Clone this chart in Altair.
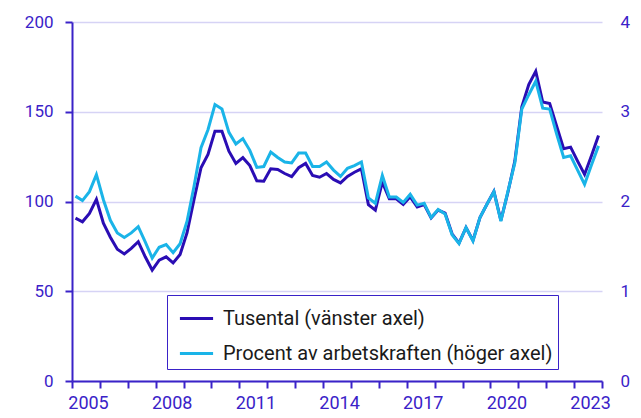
import altair as alt
import pandas as pd

# Quarterly data 2005 K1 - 2023 K4
years = list(range(2005, 2024))
tusental = [
    90.7, 88.7, 93.4, 101.2, 87.9, 80.1, 73.4, 70.8,
    73.9, 77.6, 69.2, 61.8, 67.3, 69.2, 65.8, 70.5,
    82.6, 101.1, 118.8, 126.2, 139.2, 139.2, 128.0, 121.2,
    124.4, 120.0, 111.5, 111.3, 118.2, 117.8, 115.6, 113.8,
    118.8, 121.2, 114.5, 113.5, 115.6, 112.3, 110.4, 114.0,
    116.3, 118.2, 98.3, 95.2, 110.8, 101.5, 101.5, 98.3,
    102.6, 97.0, 98.3, 90.9, 95.2, 93.5, 82.0, 76.8,
    85.5, 78.3, 91.0, 98.5, 105.6, 89.5, 105.0, 122.5,
    152.8, 165.2, 172.6, 155.4, 154.6, 142.0, 129.4, 130.3,
    122.5, 115.1, 125.6, 136.8,
]
procent = [
    2.06, 2.01, 2.11, 2.30, 2.02, 1.79, 1.65, 1.60,
    1.65, 1.72, 1.55, 1.37, 1.49, 1.52, 1.43, 1.53,
    1.78, 2.17, 2.60, 2.80, 3.08, 3.03, 2.77, 2.64,
    2.70, 2.57, 2.38, 2.39, 2.55, 2.49, 2.44, 2.43,
    2.54, 2.54, 2.39, 2.39, 2.44, 2.35, 2.28, 2.37,
    2.40, 2.44, 2.04, 1.98, 2.29, 2.05, 2.05, 1.99,
    2.08, 1.96, 1.98, 1.82, 1.91, 1.86, 1.63, 1.53,
    1.71, 1.56, 1.82, 1.97, 2.11, 1.78, 2.11, 2.43,
    3.03, 3.19, 3.34, 3.04, 3.03, 2.75, 2.49, 2.51,
    2.35, 2.19, 2.41, 2.62,
]
left_ticks = [0, 50, 100, 150, 200]
right_ticks = [0, 1, 2, 3, 4]

lab1 = "Tusental (vänster axel)"
lab2 = "Procent av arbetskraften (höger axel)"

DARK = "#2a0db4"
LIGHT = "#1ab4e8"
AXIS = "#3a22c8"
GRID = "#d6d3f5"
FONT = "Roboto"

periods = [f"{y}K{q}" for y in years for q in range(1, 5)]
xpos = [y + (q - 0.5) / 4 for y in years for q in range(1, 5)]
df = pd.DataFrame({"period": periods, "x": xpos, "tusental": tusental, "procent": procent})

color_scale = alt.Scale(domain=[lab1, lab2], range=[DARK, LIGHT])
legend = alt.Legend(
    title=None, orient="none", legendX=95, legendY=273, direction="vertical",
    strokeColor=AXIS, fillColor="white", padding=5, symbolOffset=6, symbolType="stroke",
    symbolSize=1100, symbolStrokeWidth=3, labelFontSize=20, labelFont=FONT,
    labelColor="#1a1a1a", rowPadding=6, labelOffset=8, labelLimit=600,
)

x_enc = alt.X(
    "x:Q", title=None,
    scale=alt.Scale(domain=[2005, 2024], nice=False, zero=False),
    axis=alt.Axis(
        values=list(range(2005, 2025)), format="d",
        labelExpr="(datum.value - 2005) % 3 == 0 && datum.value < 2024 ? datum.label : ''",
        labelOffset=16, labelFlush=False, labelOverlap=False, grid=False,
        domainColor=AXIS, domainWidth=2, tickColor=AXIS, tickWidth=2, tickSize=7,
        labelColor=AXIS, labelFontSize=18, labelFont=FONT, labelPadding=6,
    ),
)

l1 = alt.Chart(df).transform_calculate(series=f"'{lab1}'").mark_line(strokeWidth=3).encode(
    x=x_enc,
    y=alt.Y(
        "tusental:Q", title=None,
        scale=alt.Scale(domain=[0, 200], nice=False),
        axis=alt.Axis(
            orient="left", values=left_ticks, grid=True, gridColor=GRID, gridWidth=1.5,
            domainColor=AXIS, domainWidth=2, tickColor=AXIS, tickWidth=2, tickSize=7,
            labelColor=AXIS, labelFontSize=17, labelFont=FONT, labelPadding=12,
        ),
    ),
    color=alt.Color("series:N", scale=color_scale, legend=legend),
)

l2 = alt.Chart(df).transform_calculate(series=f"'{lab2}'").mark_line(strokeWidth=3).encode(
    x=x_enc,
    y=alt.Y(
        "procent:Q", title=None,
        scale=alt.Scale(domain=[0, 4], nice=False),
        axis=alt.Axis(
            orient="right", values=right_ticks, grid=False, domain=False, ticks=False,
            labelColor=AXIS, labelFontSize=17, labelFont=FONT, labelPadding=18,
        ),
    ),
    color=alt.Color("series:N", scale=color_scale, legend=legend),
)

chart = (
    alt.layer(l1, l2)
    .resolve_scale(y="independent")
    .properties(
        width=530, height=359,
        autosize=alt.AutoSizeParams(type="none"),
        padding={"left": 64, "top": 14, "right": 30, "bottom": 34},
    )
    .configure_view(stroke=None)
)

chart.save("out.html", embed_options={"renderer": "svg", "actions": False})
